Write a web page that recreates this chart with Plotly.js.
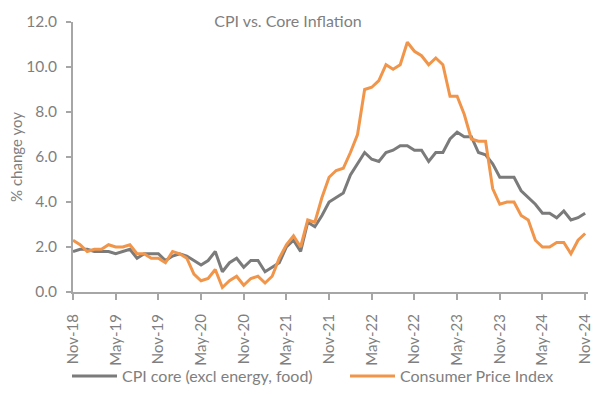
<!DOCTYPE html>
<html>
<head>
<meta charset="utf-8">
<script src="https://cdn.plot.ly/plotly-3.0.1.min.js"></script>
<style>html,body{margin:0;padding:0;background:#fff;}#chart{width:600px;height:394px;}</style>
</head>
<body>
<div id="chart"></div>
<script>
// Monthly, Nov-18 .. Nov-24
const months = [
 "Nov-18","Dec-18",
 "Jan-19","Feb-19","Mar-19","Apr-19","May-19","Jun-19","Jul-19","Aug-19","Sep-19","Oct-19","Nov-19","Dec-19",
 "Jan-20","Feb-20","Mar-20","Apr-20","May-20","Jun-20","Jul-20","Aug-20","Sep-20","Oct-20","Nov-20","Dec-20",
 "Jan-21","Feb-21","Mar-21","Apr-21","May-21","Jun-21","Jul-21","Aug-21","Sep-21","Oct-21","Nov-21","Dec-21",
 "Jan-22","Feb-22","Mar-22","Apr-22","May-22","Jun-22","Jul-22","Aug-22","Sep-22","Oct-22","Nov-22","Dec-22",
 "Jan-23","Feb-23","Mar-23","Apr-23","May-23","Jun-23","Jul-23","Aug-23","Sep-23","Oct-23","Nov-23","Dec-23",
 "Jan-24","Feb-24","Mar-24","Apr-24","May-24","Jun-24","Jul-24","Aug-24","Sep-24","Oct-24","Nov-24"
];
const coreCPI = [
 1.8,1.9,
 1.9,1.8,1.8,1.8,1.7,1.8,1.9,1.5,1.7,1.7,1.7,1.4,
 1.6,1.7,1.6,1.4,1.2,1.4,1.8,0.9,1.3,1.5,1.1,1.4,
 1.4,0.9,1.1,1.3,2.0,2.3,1.8,3.1,2.9,3.4,4.0,4.2,
 4.4,5.2,5.7,6.2,5.9,5.8,6.2,6.3,6.5,6.5,6.3,6.3,
 5.8,6.2,6.2,6.8,7.1,6.9,6.9,6.2,6.1,5.7,5.1,5.1,
 5.1,4.5,4.2,3.9,3.5,3.5,3.3,3.6,3.2,3.3,3.5
];
const headlineCPI = [
 2.3,2.1,
 1.8,1.9,1.9,2.1,2.0,2.0,2.1,1.7,1.7,1.5,1.5,1.3,
 1.8,1.7,1.5,0.8,0.5,0.6,1.0,0.2,0.5,0.7,0.3,0.6,
 0.7,0.4,0.7,1.5,2.1,2.5,2.0,3.2,3.1,4.2,5.1,5.4,
 5.5,6.2,7.0,9.0,9.1,9.4,10.1,9.9,10.1,11.1,10.7,10.5,
 10.1,10.4,10.1,8.7,8.7,7.9,6.8,6.7,6.7,4.6,3.9,4.0,
 4.0,3.4,3.2,2.3,2.0,2.0,2.2,2.2,1.7,2.3,2.6
];
const tickStep = 6;
const yTicks = [0,2,4,6,8,10,12];

const idx = months.map((m,i)=>i);
const tickVals = idx.filter(i=>i%tickStep===0);
const tickText = tickVals.map(i=>months[i]);

const FONT = "Lato, 'Open Sans', sans-serif";
const GREY_TXT = "#7f7f7f";

const traces = [
 {x: idx, y: coreCPI, type:"scatter", mode:"lines", name:"CPI core (excl energy, food)",
  line:{color:"#7b7b7b", width:3}, legend:"legend"},
 {x: idx, y: headlineCPI, type:"scatter", mode:"lines", name:"Consumer Price Index",
  line:{color:"#f0954a", width:3}, legend:"legend2"}
];

const legendBase = {orientation:"h", xref:"container", xanchor:"left", y:1-376/394, yref:"container", yanchor:"middle",
   font:{family:FONT, size:16, color:GREY_TXT}, itemwidth:45, bgcolor:"rgba(0,0,0,0)"};

const layout = {
 width:600, height:394,
 margin:{l:73, r:12, t:13, b:102},
 paper_bgcolor:"#fff", plot_bgcolor:"#fff",
 font:{family:FONT, color:GREY_TXT, size:15},
 title:{text:"CPI vs. Core Inflation", x:288/600, xref:"container", xanchor:"center",
   y:1-21/394, yref:"container", yanchor:"middle", font:{family:FONT, size:16, color:GREY_TXT}},
 showlegend:true,
 legend:Object.assign({}, legendBase, {x:67/600}),
 legend2:Object.assign({}, legendBase, {x:345/600}),
 xaxis:{range:[0,72.4], tickmode:"array", tickvals:tickVals, ticktext:tickText, tickangle:-90,
   showgrid:false, zeroline:false, showline:true, linecolor:"#a6a6a6", linewidth:2,
   ticks:"outside", ticklen:6, tickwidth:2, tickcolor:"#a6a6a6", ticklabelstandoff:8,
   tickfont:{family:FONT, size:15, color:GREY_TXT}, fixedrange:true, automargin:false},
 yaxis:{range:[0,12], tickmode:"array", tickvals:yTicks, ticktext:yTicks.map(v=>v.toFixed(1)),
   showgrid:false, zeroline:false, showline:true, linecolor:"#a6a6a6", linewidth:2,
   ticks:"outside", ticklen:5, tickwidth:2, tickcolor:"#a6a6a6", ticklabelstandoff:6,
   tickfont:{family:FONT, size:15.5, color:GREY_TXT}, automargin:true,
   title:{text:"% change yoy", font:{family:FONT, size:15, color:GREY_TXT}, standoff:0}, fixedrange:true}
};

Plotly.newPlot("chart", traces, layout, {displayModeBar:false, staticPlot:true});
</script>
</body>
</html>
